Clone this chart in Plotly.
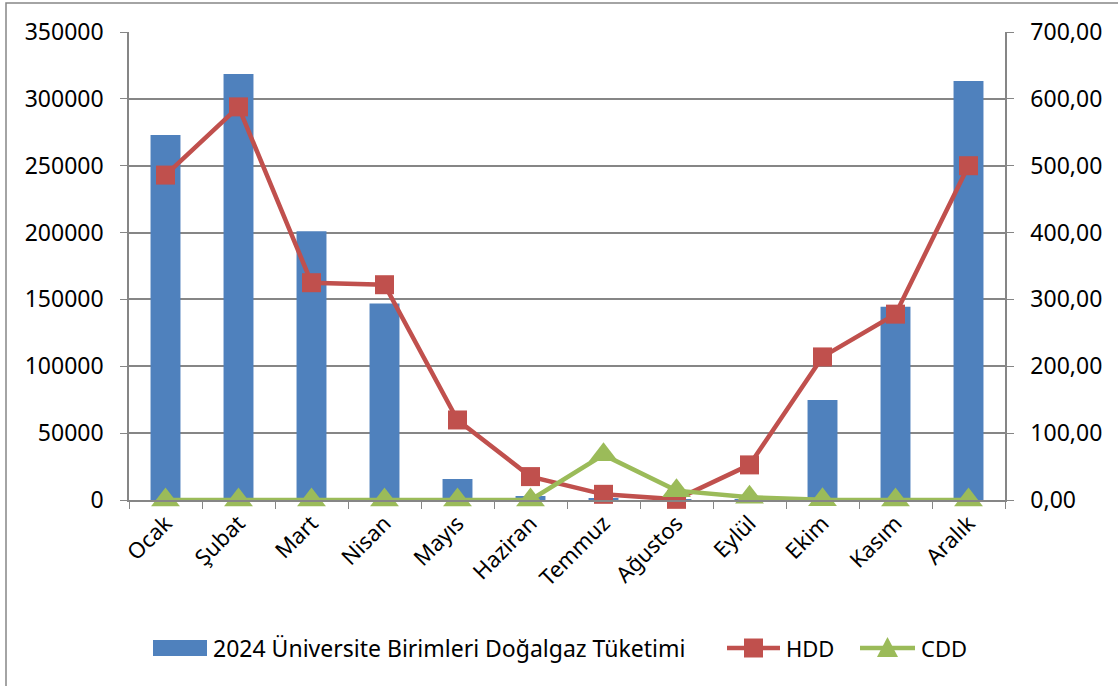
import plotly.graph_objects as go

months = ["Ocak", "Şubat", "Mart", "Nisan", "Mayıs", "Haziran", "Temmuz",
          "Ağustos", "Eylül", "Ekim", "Kasım", "Aralık"]
consumption = [273000, 318600, 201000, 147000, 15700, 3000, 1500, 500, 300, 74800, 144600, 313400]
hdd = [486, 588, 325, 322, 119.7, 35, 8.5, 1, 52.5, 214, 278, 500]
cdd = [0, 0, 0, 0, 0, 0, 67.5, 14, 4, 0.5, 0, 0]

bar_name = "2024 Üniversite Birimleri Doğalgaz Tüketimi"
font_main = "Noto Sans, DejaVu Sans, sans-serif"
BLUE, RED, GREEN = "#4F81BD", "#C0504D", "#9BBB59"

# plot-area geometry (pixels) used to place the hand-drawn legend
L, R, T, B = 129, 1005, 32, 500
W, H = R - L, B - T


def px(x):
    return (x - L) / W


def py(y):
    return (B - y) / H


fig = go.Figure()
fig.add_trace(go.Bar(x=months, y=consumption, name=bar_name,
                     marker=dict(color=BLUE, line=dict(width=0)), width=0.41))
fig.add_trace(go.Scatter(x=months, y=hdd, name="HDD", yaxis="y2", mode="lines+markers",
                         cliponaxis=False,
                         line=dict(color=RED, width=4.5),
                         marker=dict(symbol="square", size=19, color=RED)))
fig.add_trace(go.Scatter(x=months, y=cdd, name="CDD", yaxis="y2", mode="lines+markers",
                         cliponaxis=False,
                         line=dict(color=GREEN, width=4.5),
                         marker=dict(symbol="triangle-up", size=25, color=GREEN)))

axis_gray = "#868686"
ly = 648  # legend centre line (px)
shapes = [
    dict(type="rect", xref="paper", yref="paper",
         x0=px(6), x1=px(1130), y0=py(700), y1=py(3),
         line=dict(color=axis_gray, width=1.5), fillcolor="rgba(0,0,0,0)", layer="below"),
    # bar legend swatch
    dict(type="rect", xref="paper", yref="paper", x0=px(153), x1=px(207),
         y0=py(656), y1=py(640), fillcolor=BLUE, line=dict(width=0)),
    # HDD legend
    dict(type="line", xref="paper", yref="paper", x0=px(727), x1=px(780),
         y0=py(ly), y1=py(ly), line=dict(color=RED, width=4.5)),
    dict(type="rect", xref="paper", yref="paper", x0=px(744), x1=px(763),
         y0=py(ly + 9.5), y1=py(ly - 9.5), fillcolor=RED, line=dict(width=0)),
    # CDD legend
    dict(type="line", xref="paper", yref="paper", x0=px(860), x1=px(915),
         y0=py(ly), y1=py(ly), line=dict(color=GREEN, width=4.5)),
    dict(type="path", xref="paper", yref="paper",
         path=f"M {px(877)},{py(ly + 9)} L {px(898)},{py(ly + 9)} L {px(887.5)},{py(ly - 11)} Z",
         fillcolor=GREEN, line=dict(width=0)),
]

annotations = [
    dict(text=bar_name, xref="paper", yref="paper", x=px(211), y=py(ly),
         xanchor="left", yanchor="middle", showarrow=False, font=dict(size=23)),
    dict(text="HDD", xref="paper", yref="paper", x=px(784), y=py(ly),
         xanchor="left", yanchor="middle", showarrow=False, font=dict(size=22)),
    dict(text="CDD", xref="paper", yref="paper", x=px(919), y=py(ly),
         xanchor="left", yanchor="middle", showarrow=False, font=dict(size=22)),
]

fig.update_layout(
    width=1118, height=686,
    margin=dict(l=L, r=1118 - R, t=T, b=686 - B, autoexpand=False),
    paper_bgcolor="white", plot_bgcolor="white",
    separators=",.",
    font=dict(family=font_main, size=22, color="black"),
    showlegend=False,
    xaxis=dict(type="category", range=[-0.5, 11.5], showline=True, linecolor=axis_gray,
               linewidth=1.5, ticks="outside", tickson="boundaries", ticklen=7,
               tickcolor=axis_gray, tickangle=-45, showgrid=False, automargin=False,
               tickfont=dict(size=22)),
    yaxis=dict(range=[0, 350000], dtick=50000, tickformat="d", showline=True,
               linecolor=axis_gray, linewidth=1.5, ticks="outside", ticklen=7,
               tickcolor=axis_gray, showgrid=True, gridcolor=axis_gray, gridwidth=1.5,
               zeroline=False, automargin=False, tickfont=dict(size=23),
               ticklabelstandoff=12),
    yaxis2=dict(range=[0, 700], dtick=100, tickformat=".2f", overlaying="y", side="right",
                showline=True, linecolor=axis_gray, linewidth=1.5, ticks="outside",
                ticklen=7, tickcolor=axis_gray, showgrid=False, zeroline=False,
                automargin=False, tickfont=dict(size=23), ticklabelstandoff=12),
    shapes=shapes,
    annotations=annotations,
)

fig.write_html("out.html", config={"displayModeBar": False},
               post_script="document.body.style.margin='0';document.body.style.overflow='hidden';")
